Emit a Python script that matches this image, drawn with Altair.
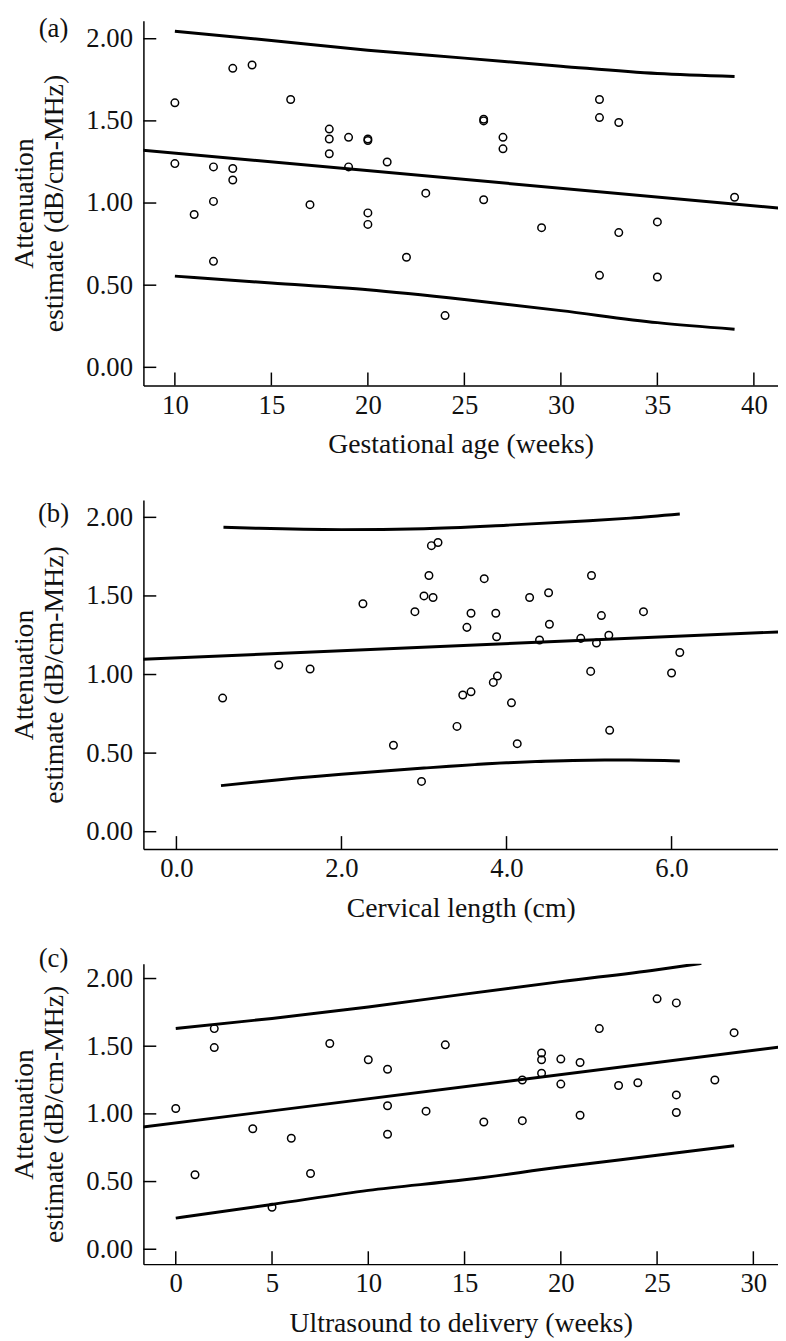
import altair as alt
import pandas as pd

FONT = "Liberation Serif"
INK = "#111111"

# ---------------- Panel (a): gestational age ----------------
ga_weeks = [10, 10, 11, 12, 12, 12, 13, 13, 13, 14, 16, 17, 18, 18, 18, 19, 19, 20, 20, 20,
            20, 21, 22, 23, 24, 26, 26, 26, 27, 27, 29, 32, 32, 32, 33, 33, 35, 35, 39]
ga_atten = [1.61, 1.24, 0.93, 1.22, 1.01, 0.645, 1.82, 1.21, 1.14, 1.84, 1.63, 0.99, 1.45, 1.39, 1.30, 1.40, 1.22, 1.39, 1.38, 0.94,
            0.87, 1.25, 0.67, 1.06, 0.315, 1.50, 1.51, 1.02, 1.40, 1.33, 0.85, 1.63, 1.52, 0.56, 1.49, 0.82, 0.885, 0.55, 1.035]
ga_fit_x = [8, 42]
ga_fit_y = [1.325, 0.962]
ga_band_x = [10, 15, 20, 25, 30, 35, 39]
ga_upper = [2.046, 1.989, 1.930, 1.882, 1.833, 1.788, 1.770]
ga_lower = [0.555, 0.513, 0.472, 0.413, 0.345, 0.272, 0.232]

# ---------------- Panel (b): cervical length ----------------
cl_cm = [0.56, 1.24, 1.62, 2.26, 2.63, 2.97, 3.09, 3.17, 3.06, 3.00, 3.11, 2.89, 3.73, 3.57, 3.52, 3.87, 3.88, 4.28, 4.51,
         4.52, 4.40, 5.03, 5.15, 4.90, 5.09, 5.24, 5.66, 6.10, 6.00, 5.02, 3.89, 3.84, 3.57, 3.47, 4.06, 3.40, 4.13, 5.25]
cl_atten = [0.85, 1.06, 1.035, 1.45, 0.55, 0.32, 1.82, 1.84, 1.63, 1.50, 1.49, 1.40, 1.61, 1.39, 1.30, 1.39, 1.24, 1.49, 1.52,
            1.32, 1.22, 1.63, 1.375, 1.23, 1.20, 1.25, 1.40, 1.14, 1.01, 1.02, 0.99, 0.95, 0.89, 0.87, 0.82, 0.67, 0.56, 0.645]
cl_fit_x = [-1, 8]
cl_fit_y = [1.083, 1.287]
cl_up_x = [0.57, 1.0, 2.0, 3.0, 4.0, 5.0, 5.5, 6.1]
cl_upper = [1.937, 1.930, 1.922, 1.928, 1.950, 1.978, 1.995, 2.021]
cl_lo_x = [0.54, 1.0, 2.0, 3.0, 4.0, 5.0, 5.5, 6.1]
cl_lower = [0.293, 0.318, 0.365, 0.405, 0.438, 0.455, 0.456, 0.450]

# ---------------- Panel (c): ultrasound to delivery ----------------
ud_weeks = [0, 1, 2, 2, 4, 5, 6, 7, 8, 10, 11, 11, 11, 13, 14, 16, 18, 18, 19, 19,
            19, 20, 20, 21, 21, 22, 23, 24, 25, 26, 26, 26, 28, 29]
ud_atten = [1.04, 0.55, 1.63, 1.49, 0.89, 0.31, 0.82, 0.56, 1.52, 1.40, 1.33, 1.06, 0.85, 1.02, 1.51, 0.94, 0.95, 1.25, 1.45, 1.40,
            1.30, 1.405, 1.22, 1.38, 0.99, 1.63, 1.21, 1.23, 1.85, 1.82, 1.14, 1.01, 1.25, 1.60]
ud_fit_x = [-2, 32]
ud_fit_y = [0.897, 1.506]
ud_up_x = [0, 5, 10, 15, 20, 25, 27.3]
ud_upper = [1.631, 1.705, 1.790, 1.885, 1.977, 2.065, 2.112]
ud_lo_x = [0, 5, 10, 15, 20, 25, 29]
ud_lower = [0.230, 0.331, 0.435, 0.513, 0.607, 0.694, 0.765]

y_ticks = [0.0, 0.5, 1.0, 1.5, 2.0]
y_domain = [-0.11, 2.11]
y_title = ["Attenuation", "estimate (dB/cm-MHz)"]

W = 642
TICK = 13


def panel(xs, ys, fit_x, fit_y, up_x, up_y, lo_x, lo_y, x_domain, x_ticks, x_fmt,
          x_title, height, letter, letter_y):
    xscale = alt.Scale(domain=x_domain, nice=False, zero=False)
    yscale = alt.Scale(domain=y_domain, nice=False, zero=False)
    xaxis = alt.Axis(values=x_ticks, format=x_fmt, ticks=False, grid=False,
                     labelPadding=7, titlePadding=13)
    yaxis = alt.Axis(values=y_ticks, format=".2f", ticks=False, grid=False,
                     labelPadding=11, titlePadding=18, titleLineHeight=30)

    def X(f):
        return alt.X(f, scale=xscale, axis=xaxis, title=x_title)

    def Y(f):
        return alt.Y(f, scale=yscale, axis=yaxis, title=y_title)

    pts = pd.DataFrame({"x": xs, "y": ys})
    points = alt.Chart(pts).mark_point(
        shape="circle", filled=False, size=58, strokeWidth=1.5, color="black", opacity=1
    ).encode(x=X("x:Q"), y=Y("y:Q"))

    def curve(cx, cy, interp):
        df = pd.DataFrame({"x": cx, "y": cy})
        return alt.Chart(df).mark_line(
            color="black", strokeWidth=3, clip=True, interpolate=interp
        ).encode(x=X("x:Q"), y=Y("y:Q"))

    fit = curve(fit_x, fit_y, "linear")
    upper = curve(up_x, up_y, "monotone")
    lower = curve(lo_x, lo_y, "monotone")

    yt = alt.Chart(pd.DataFrame({"y": y_ticks})).mark_rule(color="black", strokeWidth=1.5).encode(
        y=Y("y:Q"), x=alt.value(0), x2=alt.value(TICK),
    )
    xt = alt.Chart(pd.DataFrame({"x": x_ticks})).mark_rule(color="black", strokeWidth=1.5).encode(
        x=X("x:Q"), y=alt.value(height), y2=alt.value(height - TICK),
    )
    lab = alt.Chart(pd.DataFrame({"t": [letter]})).mark_text(
        font=FONT, fontSize=27, color=INK, align="center", baseline="alphabetic"
    ).encode(x=alt.value(-91), y=alt.value(letter_y), text="t:N")

    return alt.layer(points, fit, upper, lower, yt, xt, lab).properties(width=W, height=height)


pa = panel(ga_weeks, ga_atten, ga_fit_x, ga_fit_y, ga_band_x, ga_upper, ga_band_x, ga_lower,
           [8.37, 41.25], [10, 15, 20, 25, 30, 35, 40], "d", "Gestational age (weeks)", 369, "(a)", 17)
pb = panel(cl_cm, cl_atten, cl_fit_x, cl_fit_y, cl_up_x, cl_upper, cl_lo_x, cl_lower,
           [-0.40, 7.29], [0, 2, 4, 6], ".1f", "Cervical length (cm)", 353, "(b)", 22)
pc = panel(ud_weeks, ud_atten, ud_fit_x, ud_fit_y, ud_up_x, ud_upper, ud_lo_x, ud_lower,
           [-1.68, 31.28], [0, 5, 10, 15, 20, 25, 30], "d", "Ultrasound to delivery (weeks)", 304, "(c)", 3)

chart = alt.vconcat(pa, pb, pc, spacing=116, bounds="flush").properties(
    padding={"left": 2, "top": 0, "right": 0, "bottom": 0}
).configure_view(stroke=None).configure_axis(
    domainColor="black", domainWidth=1.5,
    labelFont=FONT, labelFontSize=27, labelColor=INK,
    titleFont=FONT, titleFontSize=28, titleColor=INK, titleFontWeight="normal",
)

chart.save("out.html", embed_options={"renderer": "svg", "actions": False})
